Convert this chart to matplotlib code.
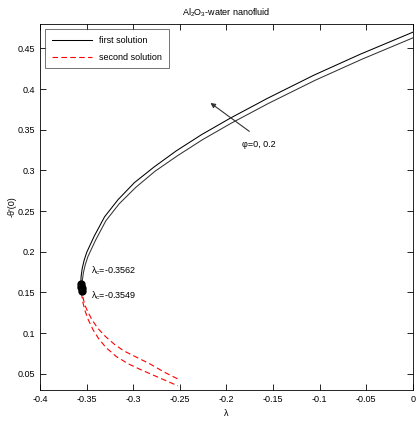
import numpy as np
import matplotlib
matplotlib.use("Agg")
import matplotlib.pyplot as plt

plt.rcParams['font.family'] = ['Liberation Sans', 'DejaVu Sans']
plt.rcParams['font.size'] = 6.5
plt.rcParams['mathtext.fontset'] = 'custom'
plt.rcParams['mathtext.rm'] = 'Liberation Sans'
plt.rcParams['mathtext.it'] = 'Liberation Sans'

# first solution (upper branch), two volume fractions
lam_up1 = [-0.3562, -0.3558, -0.3546, -0.3526, -0.3498, -0.3418, -0.3306, -0.3162,
           -0.2986, -0.2778, -0.2538, -0.2266, -0.1962, -0.1562, -0.1062, -0.0562, 0.0]
f_up1 = [0.160, 0.1697, 0.1795, 0.1893, 0.1992, 0.219, 0.243, 0.264,
         0.285, 0.304, 0.324, 0.344, 0.364, 0.3885, 0.4171, 0.443, 0.470]

lam_up2 = [-0.3549, -0.3545, -0.3533, -0.3513, -0.3485, -0.3405, -0.3293, -0.3149,
           -0.2973, -0.2765, -0.2525, -0.2253, -0.1949, -0.1549, -0.1049, -0.0549, 0.0]
f_up2 = [0.155, 0.1647, 0.1744, 0.1842, 0.194, 0.2137, 0.238, 0.259,
         0.279, 0.299, 0.318, 0.338, 0.358, 0.3824, 0.4108, 0.4366, 0.463]

# second solution (lower branch)
lam_lo1 = [-0.3562, -0.3555, -0.3540, -0.3515, -0.3480, -0.3430, -0.3370, -0.3290,
           -0.3180, -0.3050, -0.2920, -0.2760, -0.2600, -0.2520]
f_lo1 = [0.160, 0.150, 0.138, 0.127, 0.116, 0.104, 0.093, 0.082,
         0.071, 0.062, 0.055, 0.047, 0.039, 0.035]

lam_lo2 = [-0.3549, -0.3540, -0.3520, -0.3490, -0.3440, -0.3380, -0.3300, -0.3200,
           -0.3100, -0.2960, -0.2820, -0.2660, -0.2495]
f_lo2 = [0.155, 0.145, 0.135, 0.127, 0.116, 0.106, 0.096, 0.086,
         0.078, 0.070, 0.062, 0.0515, 0.042]

lam_c = [-0.3562, -0.3549]
f_c = [0.160, 0.155]

fig = plt.figure(figsize=(4.2, 4.22), dpi=100)
ax = fig.add_axes([0.095, 0.076, 0.888, 0.867])

ax.plot(lam_up1, f_up1, color='black', lw=0.75, label='first solution')
ax.plot(lam_up2, f_up2, color='#333333', lw=0.75)
ax.plot(lam_lo1, f_lo1, color='red', lw=0.8, ls=(0, (5, 3)), label='second solution')
ax.plot(lam_lo2, f_lo2, color='red', lw=0.8, ls=(0, (5, 3)))

# turning points
ax.plot(lam_c, f_c, 'o', color='black', ms=5)
ax.plot(lam_c, [0.157, 0.152], 'o', color='black', ms=5)

ax.text(-0.345, 0.176, r'$\lambda_c$=-0.3562', fontsize=6.5, va='center')
ax.text(-0.345, 0.146, r'$\lambda_c$=-0.3549', fontsize=6.5, va='center')

ax.annotate('', xy=(-0.2195, 0.385), xytext=(-0.173, 0.346),
            arrowprops=dict(arrowstyle='-|>', color='#333333', lw=0.8,
                            mutation_scale=7))
ax.text(-0.183, 0.3315, 'φ=0, 0.2', fontsize=6.5, va='center')

ax.set_xlim(-0.4, 0)
ax.set_ylim(0.03, 0.48)
ax.set_xticks([-0.4, -0.35, -0.3, -0.25, -0.2, -0.15, -0.1, -0.05, 0])
ax.set_xticklabels(['-0.4', '-0.35', '-0.3', '-0.25', '-0.2', '-0.15', '-0.1', '-0.05', '0'])
ax.set_yticks([0.05, 0.1, 0.15, 0.2, 0.25, 0.3, 0.35, 0.4, 0.45])
ax.set_yticklabels(['0.05', '0.1', '0.15', '0.2', '0.25', '0.3', '0.35', '0.4', '0.45'])
ax.tick_params(direction='in', top=True, right=True, length=4, width=0.6, labelsize=6.5)
for s in ax.spines.values():
    s.set_linewidth(0.6)

ax.set_xlabel('λ', fontsize=6.5, labelpad=4)
ax.set_ylabel("-θ'(0)", fontsize=6.5, labelpad=1)
ax.set_title(r'Al$_2$O$_3$-water nanofluid', fontsize=6.5, pad=6)

leg = ax.legend(loc='upper left', fontsize=6.5, frameon=True, fancybox=False,
                edgecolor='#333333', handlelength=4.5, borderpad=0.7,
                labelspacing=0.9, borderaxespad=0.6)
leg.get_frame().set_linewidth(0.6)

fig.savefig('out.png', dpi=100)
